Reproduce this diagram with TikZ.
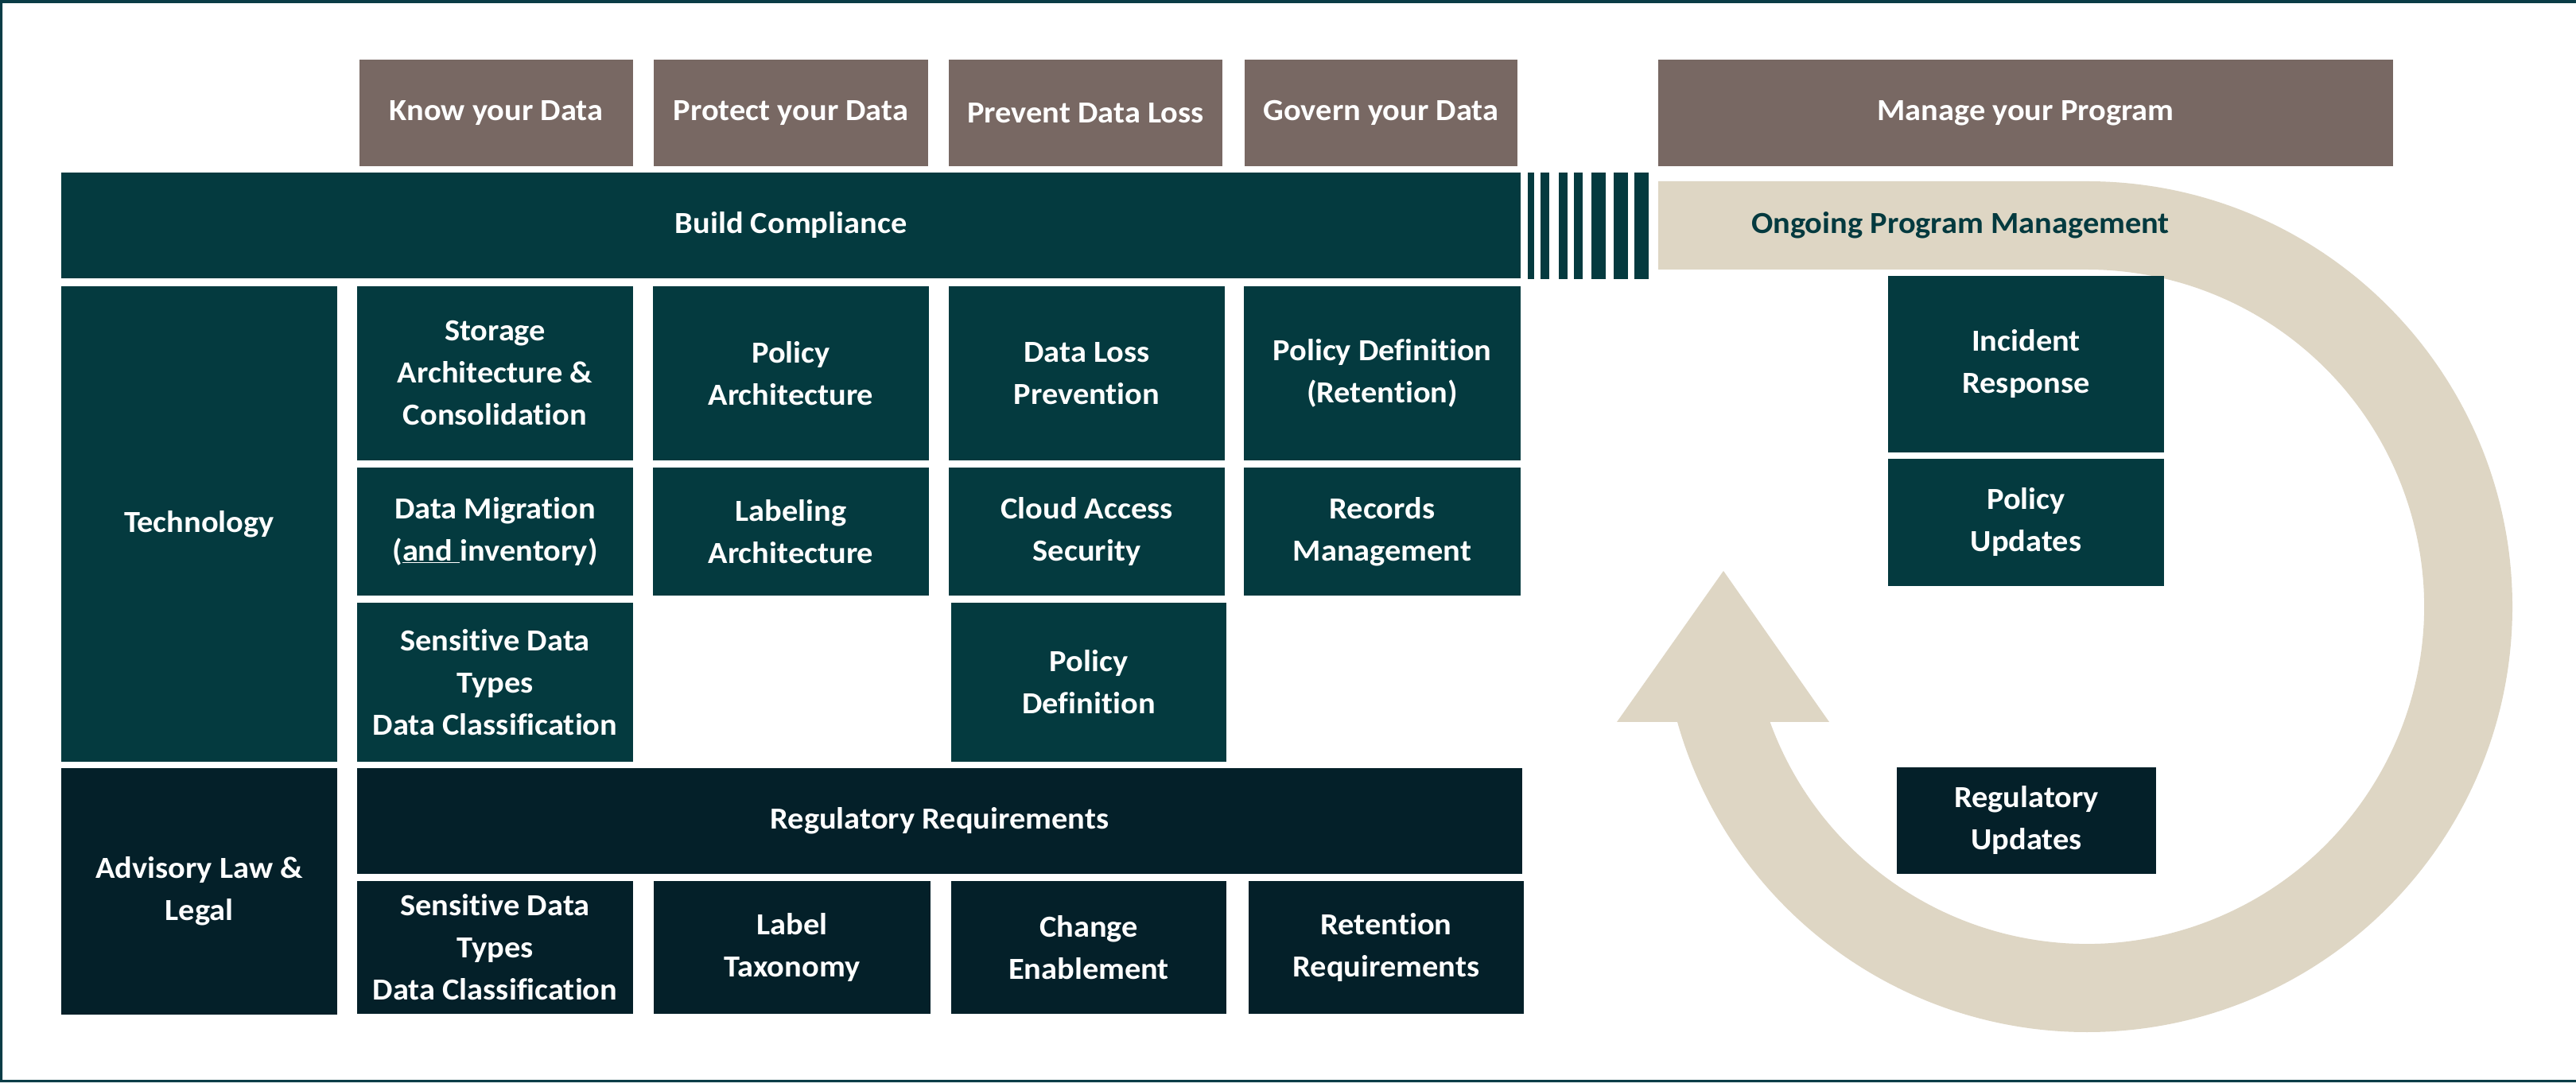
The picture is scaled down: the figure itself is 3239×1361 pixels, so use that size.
\documentclass[tikz,border=0pt]{standalone}
\usepackage{fontspec}
\setmainfont{Carlito}[FakeStretch=1.05, Ligatures=NoCommon]
\usetikzlibrary{calc}
\definecolor{teal}{HTML}{043A3F}
\definecolor{navy}{HTML}{042029}
\definecolor{brownhd}{HTML}{786863}
\definecolor{beige}{HTML}{DED6C4}
\definecolor{frame}{HTML}{0A3C46}
\tikzset{
  base/.style={inner sep=0pt, outer sep=0pt, align=center, text=white,
    font=\fontsize{38.5}{53}\selectfont\bfseries},
  head/.style={base, fill=brownhd, minimum height=134pt},
  tbox/.style={base, fill=teal},
  nbox/.style={base, fill=navy},
  stripe/.style={fill=teal},
}
\begin{document}
\begin{tikzpicture}[x=1pt,y=1pt]
\useasboundingbox (0,0) rectangle (3239,1361);
\fill[white] (0,0) rectangle (3239,1361);
% frame
\fill[frame,even odd rule] (0,0) rectangle (3239,1361) (3,3) rectangle (3239,1357);

% header row
\node[head, minimum width=344pt] (hknow) at (624,1219) {Know your Data};
\node[head, minimum width=345pt] (hprot) at (994.5,1219) {Protect your Data};
\node[head, minimum width=344pt] (hprev) at (1365,1219) {Prevent Data Loss};
\node[head, minimum width=343pt] (hgov) at (1736.5,1219) {Govern your Data};
\node[head, minimum width=924pt] (hman) at (2547,1219) {Manage your Program};

% build compliance
\node[tbox, minimum width=1835pt, minimum height=133pt] (build) at (994.5,1077.5) {Build Compliance};
\foreach \a/\b in {1921/1929,1937/1948,1960/1971,1979/1990,2001/2019,2029/2047,2055/2073}
  \fill[stripe] (\a,1010) rectangle (\b,1144);

% ongoing band and cycle arrow
\coordinate (rc) at (2624,598);
\fill[beige] (2085,1022) -- (2085,1133) -- (2624,1133)
  arc[start angle=90, end angle=-164.28, radius=535]
  -- ($(rc)+(200:424)$)
  arc[start angle=-160, end angle=90, radius=424] -- cycle;
\fill[beige] (2033,453) -- (2167,643) -- (2300,453) -- cycle;
\node[base, text=teal] (ongoing) at (2465,1078) {Ongoing Program Management};

% technology
\node[tbox, minimum width=347pt, minimum height=598pt] (tech) at (250.5,702) {Technology};
\node[tbox, minimum width=347pt, minimum height=219pt] (t11) at (622.5,891.5) {Storage\\Architecture \&\\Consolidation};
\node[tbox, minimum width=347pt, minimum height=219pt] (t12) at (994.5,891.5) {Policy\\Architecture};
\node[tbox, minimum width=347pt, minimum height=219pt] (t13) at (1366.5,891.5) {Data Loss\\Prevention};
\node[tbox, minimum width=348pt, minimum height=219pt] (t14) at (1738,891.5) {Policy Definition\\(Retention)};
\node[tbox, minimum width=347pt, minimum height=161pt] (t21) at (622.5,692.5) {Data Migration\\(\underline{and }inventory)};
\node[tbox, minimum width=347pt, minimum height=161pt] (t22) at (994.5,692.5) {Labeling\\Architecture};
\node[tbox, minimum width=347pt, minimum height=161pt] (t23) at (1366.5,692.5) {Cloud Access\\Security};
\node[tbox, minimum width=348pt, minimum height=161pt] (t24) at (1738,692.5) {Records\\Management};
\node[tbox, minimum width=347pt, minimum height=200pt] (t31) at (622.5,503) {Sensitive Data\\Types\\Data Classification};
\node[tbox, minimum width=346pt, minimum height=200pt] (t33) at (1369,503) {Policy\\Definition};

% advisory
\node[nbox, minimum width=347pt, minimum height=310pt] (adv) at (250.5,240) {Advisory Law \&\\Legal};
\node[nbox, minimum width=1465pt, minimum height=133pt] (reg) at (1181.5,328.5) {Regulatory Requirements};
\node[nbox, minimum width=347pt, minimum height=167pt] (a1) at (622.5,169.5) {Sensitive Data\\Types\\Data Classification};
\node[nbox, minimum width=348pt, minimum height=167pt] (a2) at (996,169.5) {Label\\Taxonomy};
\node[nbox, minimum width=346pt, minimum height=167pt] (a3) at (1369,169.5) {Change\\Enablement};
\node[nbox, minimum width=346pt, minimum height=167pt] (a4) at (1743,169.5) {Retention\\Requirements};

% program management
\node[tbox, minimum width=347pt, minimum height=222pt] (inc) at (2547.5,903) {Incident\\Response};
\node[tbox, minimum width=347pt, minimum height=160pt] (pup) at (2547.5,704) {Policy\\Updates};
\node[nbox, minimum width=326pt, minimum height=134pt] (rup) at (2548,329) {Regulatory\\Updates};
\end{tikzpicture}
\end{document}
